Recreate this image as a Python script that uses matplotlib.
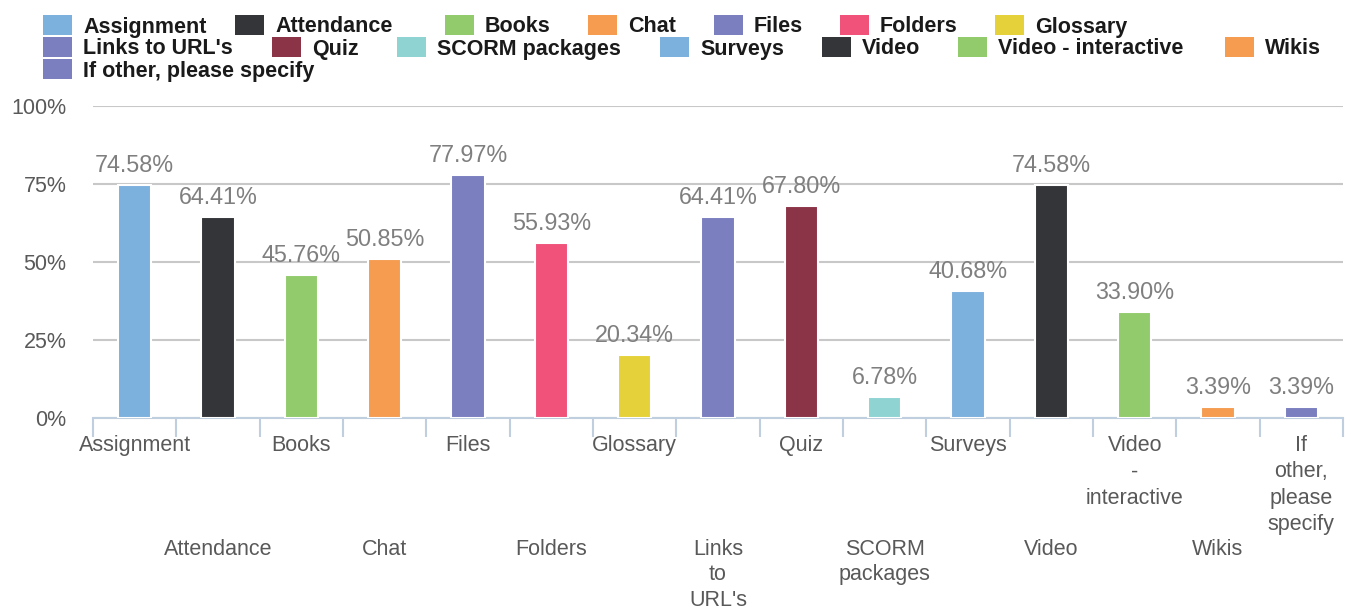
import matplotlib.pyplot as plt
from matplotlib.patches import Rectangle

categories = ["Assignment", "Attendance", "Books", "Chat", "Files", "Folders", "Glossary",
              "Links to URL's", "Quiz", "SCORM packages", "Surveys", "Video",
              "Video - interactive", "Wikis", "If other, please specify"]
tick_labels = ["Assignment", "Attendance", "Books", "Chat", "Files", "Folders", "Glossary",
               "Links\nto\nURL's", "Quiz", "SCORM\npackages", "Surveys", "Video",
               "Video\n-\ninteractive", "Wikis", "If\nother,\nplease\nspecify"]
values = [74.58, 64.41, 45.76, 50.85, 77.97, 55.93, 20.34,
          64.41, 67.80, 6.78, 40.68, 74.58, 33.90, 3.39, 3.39]
colors = ["#7cb0dd", "#333539", "#92cb6c", "#f59c51", "#7b7ebf", "#f0527a", "#e5d23a",
          "#7b7ebf", "#8b3447", "#8fd3d3", "#7cb0dd", "#333539", "#92cb6c", "#f59c51", "#7b7ebf"]

W, H = 1346, 611
plt.rcParams['font.family'] = ['Liberation Sans', 'DejaVu Sans']
fig = plt.figure(figsize=(W / 100, H / 100), dpi=100)
ax = fig.add_axes([93 / W, 1 - 418 / H, 1250 / W, 312 / H])

n = len(categories)
x = list(range(n))
ax.bar(x, values, width=0.4, color=colors, edgecolor='white', linewidth=1.5, zorder=3)
ax.set_xlim(-0.5, n - 0.5)
ax.set_ylim(0, 100)

ax.set_yticks([0, 25, 50, 75, 100])
ax.set_yticklabels(["0%", "25%", "50%", "75%", "100%"])
ax.tick_params(axis='y', length=0, pad=19, labelsize=15.5, labelcolor='#595959')
ax.grid(axis='y', color='#c8c8c8', linewidth=1.5, zorder=0)

for s in ['top', 'right', 'left']:
    ax.spines[s].set_visible(False)
ax.spines['bottom'].set_color('#c0cfe0')
ax.spines['bottom'].set_linewidth(1.5)
ax.set_xticks([i - 0.5 for i in range(n + 1)])
ax.set_xticklabels([])
ax.tick_params(axis='x', length=14, width=1.5, color='#c0cfe0')

# value labels
for i, v in enumerate(values):
    ax.annotate(f"{v:.2f}%", (i, v), xytext=(0, 8), textcoords='offset pixels',
                ha='center', va='bottom', fontsize=16.8, color='#7f7f7f')

# category labels, staggered in two rows
for i, lab in enumerate(tick_labels):
    if i % 2 == 0:
        off, ls = -17, 1.34
    else:
        off, ls = -121, 1.27
    ax.annotate(lab, (i, 0), xycoords=('data', 'axes fraction'), xytext=(0, off),
                textcoords='offset pixels', ha='center', va='top', fontsize=15.5,
                color='#595959', linespacing=ls, annotation_clip=False)

# legend drawn as a flow of swatches + bold labels
legend_x = [43, 235, 445, 588, 714, 840, 995,
            43, 272, 397, 660, 822, 958, 1225,
            43]
legend_row = [0] * 7 + [1] * 7 + [2]
row_y = [25, 47, 69]
for i, cat in enumerate(categories):
    lx = legend_x[i]
    ly = row_y[legend_row[i]]
    fig.patches.append(Rectangle((lx / W, 1 - (ly + 10) / H), 29 / W, 20 / H,
                                 transform=fig.transFigure, facecolor=colors[i],
                                 edgecolor='none'))
    fig.text((lx + 40) / W, 1 - (ly + 2) / H, cat, ha='left', va='center',
             fontsize=15.5, fontweight='bold', color='#1a1a1a')

fig.savefig('out.png', dpi=100)
